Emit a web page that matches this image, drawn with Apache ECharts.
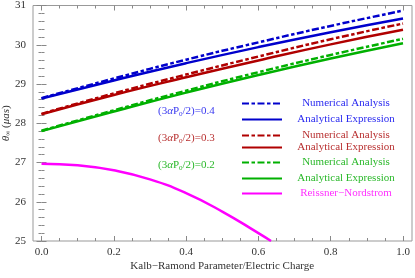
<!DOCTYPE html>
<html><head><meta charset="utf-8">
<script src="https://cdn.jsdelivr.net/npm/echarts@6/dist/echarts.min.js"></script>
<style>html,body{margin:0;padding:0;background:#fff}#c{width:415px;height:278px}</style>
</head><body><div id="c"></div>
<script>
const xs = [0, 0.2, 0.4, 0.6, 0.8, 1.0];
const blueNum  = [28.64, 29.14, 29.62, 30.06, 30.48, 30.87];
const blueAna  = [28.63, 29.09, 29.53, 29.94, 30.32, 30.67];
const redNum   = [28.24, 28.76, 29.24, 29.70, 30.14, 30.54];
const redAna   = [28.23, 28.72, 29.17, 29.60, 30.01, 30.38];
const greenNum = [27.81, 28.33, 28.83, 29.30, 29.74, 30.15];
const greenAna = [27.80, 28.30, 28.78, 29.23, 29.65, 30.04];
const rnX = [0, 0.1, 0.2, 0.3, 0.4, 0.5, 0.6, 0.635];
const rnY = [26.97, 26.93, 26.80, 26.57, 26.22, 25.75, 25.20, 25.0];
const xTicks = [0, 0.2, 0.4, 0.6, 0.8, 1.0];
const yTicks = [25, 26, 27, 28, 29, 30, 31];

const BLUE = '#0000cc', RED = '#b00000', GREEN = '#00b000', MAG = '#ff00ff';
const dashDot = [7, 2.5, 3.5, 2.5];
const serif = '"Liberation Serif", "DejaVu Serif", serif';

function pairs(x, y) { return x.map((v, i) => [v, y[i]]); }
function ser(name, x, y, color, dashed) {
  return { name, type: 'line', xAxisIndex: 0, yAxisIndex: 0, data: pairs(x, y), smooth: true,
    symbol: 'none', color, lineStyle: { color, width: 2.5, type: dashed ? dashDot : 'solid' },
    z: dashed ? 3 : 2 };
}
const chart = echarts.init(document.getElementById('c'));
const tickCol = '#888';
const rows = [
  ['NA4', 'Numerical Analysis', '#2a2af0', 104],
  ['AE4', 'Analytical Expression', '#2a2af0', 120],
  ['NA3', 'Numerical Analysis', '#b83030', 136],
  ['AE3', 'Analytical Expression', '#b83030', 148],
  ['NA2', 'Numerical Analysis', '#2ab82a', 163],
  ['AE2', 'Analytical Expression', '#2ab82a', 179],
  ['RN', 'Reissner\u2212Nordstrom', '#ff30ff', 194]
];
const legends = rows.map(r => ({
  left: 241, top: r[3] - 6, itemWidth: 40, itemHeight: 12, itemGap: 5,
  selectedMode: false, padding: 0,
  itemStyle: { color: 'transparent', borderColor: 'transparent', borderWidth: 0, opacity: 0 },
  data: [{ name: r[0] }],
  formatter: () => '{t|' + r[1] + '}',
  textStyle: { rich: { t: { width: 118, align: 'center', fontFamily: serif, fontSize: 11, color: r[2] } } }
}));
function axisCommon(extra) {
  return Object.assign({
    axisLine: { show: false },
    axisTick: { show: true, inside: true, length: 5, lineStyle: { color: tickCol, width: 1 } },
    minorTick: { show: true, length: 3, lineStyle: { color: tickCol, width: 1 } },
    splitLine: { show: false }
  }, extra);
}
const annot = [['0.4', '#3a3af0', 113], ['0.3', '#b83030', 140], ['0.2', '#2ab82a', 167]];
chart.setOption({
  animation: false,
  grid: [
    { left: 41.5, right: 12, top: 5.5, bottom: 37, containLabel: false, outerBoundsMode: 'none' },
    { left: 33, right: 3, top: 5.5, bottom: 37, show: true, borderColor: '#999', borderWidth: 1, backgroundColor: 'transparent', z: 0, containLabel: false, outerBoundsMode: 'none' }
  ],
  xAxis: [
    axisCommon({ type: 'value', gridIndex: 0, min: 0, max: 1, interval: 0.2, position: 'bottom',
      minorTick: { show: true, splitNumber: 4, length: 3, lineStyle: { color: tickCol } },
      axisLabel: { margin: 6, color: '#333', fontFamily: serif, fontSize: 11, formatter: v => v.toFixed(1) },
      name: 'Kalb\u2212Ramond Parameter/Electric Charge', nameLocation: 'middle', nameGap: 20, nameMoveOverlap: false,
      nameTextStyle: { fontFamily: serif, fontSize: 11, color: '#333' } }),
    axisCommon({ type: 'value', gridIndex: 0, min: 0, max: 1, interval: 0.2, position: 'top',
      minorTick: { show: true, splitNumber: 4, length: 3, lineStyle: { color: tickCol } },
      axisLabel: { show: false } }),
    { type: 'value', gridIndex: 1, show: false, min: 0, max: 1 }
  ],
  yAxis: [
    axisCommon({ type: 'value', gridIndex: 0, min: 25, max: 31, interval: 1, position: 'left', offset: 8.5,
      minorTick: { show: true, splitNumber: 5, length: 3, lineStyle: { color: tickCol } },
      axisLabel: { margin: 7, color: '#333', fontFamily: serif, fontSize: 11 },
      name: '{i|\u03b8}{s|\u221e} ({i|\u03bcas})', nameLocation: 'middle', nameGap: 21, nameRotate: 90, nameMoveOverlap: false,
      nameTextStyle: { fontFamily: serif, fontSize: 11, color: '#333', padding: [0, 0, 0, 0],
        rich: { i: { fontStyle: 'italic', fontFamily: serif, fontSize: 11, color: '#333' },
                s: { fontFamily: serif, fontSize: 7, color: '#333', verticalAlign: 'bottom', padding: [4, 0, 0, 0] } } } }),
    axisCommon({ type: 'value', gridIndex: 0, min: 25, max: 31, interval: 1, position: 'right', offset: 9,
      minorTick: { show: true, splitNumber: 5, length: 3, lineStyle: { color: tickCol } },
      axisLabel: { show: false } }),
    { type: 'value', gridIndex: 1, show: false, min: 0, max: 1 }
  ],
  legend: legends,
  series: [
    ser('NA4', xs, blueNum, BLUE, true),
    ser('AE4', xs, blueAna, BLUE, false),
    ser('NA3', xs, redNum, RED, true),
    ser('AE3', xs, redAna, RED, false),
    ser('NA2', xs, greenNum, GREEN, true),
    ser('AE2', xs, greenAna, GREEN, false),
    ser('RN', rnX, rnY, MAG, false)
  ],
  graphic: annot.map(a => ({
    type: 'text', left: 187 - 29, top: a[2] - 7,
    style: { text: '(3{i|\u03b1}P{s|0}/2)=' + a[0], fill: a[1], font: '11px ' + serif,
      rich: { i: { fontStyle: 'italic', fontFamily: serif, fontSize: 11, fill: a[1] },
              s: { fontFamily: serif, fontSize: 7, fill: a[1], verticalAlign: 'bottom', padding: [5, 0, 0, 0] } } }
  }))
});
</script></body></html>
